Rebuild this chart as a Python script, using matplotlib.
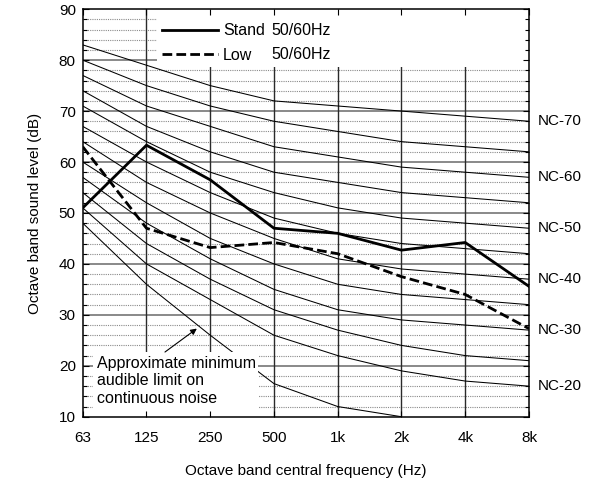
import matplotlib
matplotlib.use('Agg')
import matplotlib.pyplot as plt
from matplotlib.lines import Line2D
from matplotlib.patches import Rectangle
import numpy as np

plt.rcParams['font.family'] = ['Liberation Sans', 'DejaVu Sans']
plt.rcParams['font.size'] = 11

# octave band centre frequencies
freq_labels = ['63', '125', '250', '500', '1k', '2k', '4k', '8k']

# NC curves (dB per octave band)
nc_names = ['NC-20', 'NC-25', 'NC-30', 'NC-35', 'NC-40', 'NC-45',
            'NC-50', 'NC-55', 'NC-60', 'NC-65', 'NC-70']
nc_values = [
    [51, 40, 33, 26, 22, 19, 17, 16],
    [54, 44, 37, 31, 27, 24, 22, 21],
    [57, 48, 41, 35, 31, 29, 28, 27],
    [60, 52, 45, 40, 36, 34, 33, 32],
    [64, 56, 50, 45, 41, 39, 38, 37],
    [67, 60, 54, 49, 46, 44, 43, 42],
    [71, 64, 58, 54, 51, 49, 48, 47],
    [74, 67, 62, 58, 56, 54, 53, 52],
    [77, 71, 67, 63, 61, 59, 58, 57],
    [80, 75, 71, 68, 66, 64, 63, 62],
    [83, 79, 75, 72, 71, 70, 69, 68],
]
nc_labelled = ['NC-20', 'NC-30', 'NC-40', 'NC-50', 'NC-60', 'NC-70']

# approximate minimum audible limit (ends at 2k)
audible_values = [48, 36, 26, 16.5, 12, 10]

# measured unit levels
stand_values = [51, 63.3, 56.5, 47, 46, 42.7, 44.2, 35.6]
low_values = [63, 47, 43.2, 44.2, 42, 37.5, 34, 27.3]

x = np.arange(len(freq_labels))

fig = plt.figure(figsize=(5.91, 4.84), dpi=100)
ax = fig.add_axes([0.140, 0.139, 0.755, 0.842])

# grid, drawn by hand so the ticks can sit above the white boxes
for yv in range(12, 90, 2):
    if yv % 10:
        ax.axhline(yv, color='#8a8a8a', lw=0.8, ls=(0, (1, 1)), zorder=1)
for yv in range(20, 90, 10):
    ax.axhline(yv, color='#6a6a6a', lw=1.1, zorder=1)
for xv in x[1:-1]:
    ax.axvline(xv, color='#2a2a2a', lw=1.0, zorder=1)

for name, vals in zip(nc_names, nc_values):
    ax.plot(x, vals, color='black', lw=0.75, zorder=2)
    if name in nc_labelled:
        ax.annotate(name, xy=(x[-1], vals[-1]), xytext=(6.5, 0),
                    textcoords='offset points', ha='left', va='center',
                    fontsize=11, annotation_clip=False)

ax.plot(x[:len(audible_values)], audible_values, color='black', lw=0.75, zorder=2)

ax.plot(x, stand_values, color='black', lw=2.0, zorder=2.1)
ax.plot(x, low_values, color='black', lw=2.0, ls=(0, (3.5, 1.5)), zorder=2.1)

# white boxes under legend and annotation
ax.add_patch(Rectangle((0.1665, 0.858), 0.8335, 0.142, transform=ax.transAxes,
                       facecolor='white', edgecolor='none', zorder=2.2))
ax.add_patch(Rectangle((0.023, 0.0), 0.370, 0.159, transform=ax.transAxes,
                       facecolor='white', edgecolor='none', zorder=2.2))

handles = [Line2D([], [], color='black', lw=2.0),
           Line2D([], [], color='black', lw=2.0, ls=(0, (3.5, 1.5)))]
leg = ax.legend(handles, ['Stand', 'Low'], loc='upper left',
                bbox_to_anchor=(0.177, 0.965), frameon=False, borderpad=0,
                borderaxespad=0, handlelength=3.5, handletextpad=0.35,
                labelspacing=0.58, fontsize=11.5)
leg.set_zorder(5)
for ty in (0.948, 0.889):
    ax.text(0.4235, ty, '50/60Hz', transform=ax.transAxes, ha='left',
            va='center', fontsize=11.5, zorder=5)

ax.text(0.031, 0.149, 'Approximate minimum\naudible limit on\ncontinuous noise',
        transform=ax.transAxes, ha='left', va='top', fontsize=11.5, zorder=5)
ax.annotate('', xy=(1.79, 27.3), xytext=(1.29, 22.7),
            arrowprops=dict(arrowstyle='-|>', color='black', lw=0.8,
                            mutation_scale=9, shrinkA=0, shrinkB=0),
            zorder=5)

ax.set_xlim(0, 7)
ax.set_ylim(10, 90)
ax.set_xticks(x)
ax.set_xticklabels(freq_labels)
ax.set_yticks(range(10, 91, 10))
ax.set_yticks(range(10, 91, 2), minor=True)
ax.set_axisbelow(False)
ax.tick_params(axis='both', which='both', direction='in', top=True, right=True,
               labelsize=11, width=0.8)
ax.tick_params(axis='x', which='major', length=4, pad=10)
ax.tick_params(axis='y', which='major', length=4, pad=5)
ax.tick_params(axis='y', which='minor', length=3)
for sp in ax.spines.values():
    sp.set_linewidth(1.1)
    sp.set_zorder(6)

ax.set_xlabel('Octave band central frequency (Hz)', fontsize=11, labelpad=14)
ax.set_ylabel('Octave band sound level (dB)', fontsize=11, labelpad=12)

fig.savefig('out.png', dpi=100, facecolor='white')
